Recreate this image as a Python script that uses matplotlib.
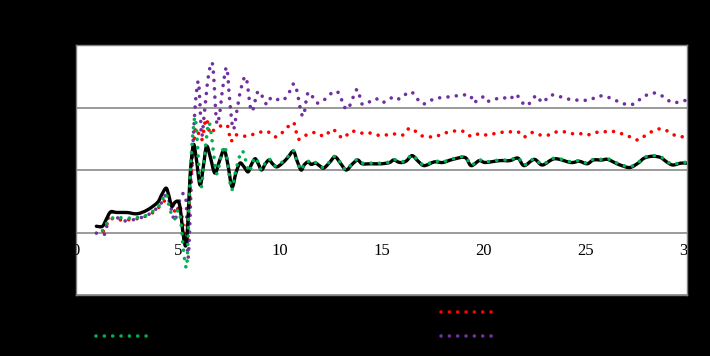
import matplotlib
matplotlib.use("Agg")
import matplotlib.pyplot as plt
from matplotlib.lines import Line2D
from matplotlib.path import Path
from matplotlib.patches import PathPatch

# black solid series
x_black = [1.0, 1.3, 1.5, 1.7, 2.0, 2.5, 3.0, 3.5, 4.0, 4.2, 4.42, 4.55, 4.7, 4.85, 5.0, 5.1, 5.2, 5.3,
           5.4, 5.5, 5.6, 5.76, 5.9, 6.09, 6.25, 6.41, 6.6, 6.82, 7.05, 7.27, 7.45, 7.66, 7.85, 8.05, 8.25,
           8.45, 8.6, 8.79, 8.95, 9.11, 9.3, 9.48, 9.65, 9.85, 10.1, 10.4, 10.67, 10.85, 11.05, 11.2, 11.39,
           11.55, 11.76, 11.95, 12.16, 12.45, 12.72, 13.0, 13.27, 13.55, 13.83, 14.05, 14.5, 15.0, 15.4,
           15.6, 15.9, 16.2, 16.5, 16.8, 17.1, 17.6, 18.0, 18.5, 19.1, 19.4, 19.8, 20.1, 20.8, 21.3, 21.7,
           22.0, 22.5, 22.9, 23.5, 24.3, 24.7, 25.1, 25.4, 25.8, 26.1, 26.5, 26.8, 27.2, 27.6, 27.9, 28.3,
           28.7, 29.0, 29.3, 29.7, 30.0]
y_black = [0.10, 0.10, 0.22, 0.33, 0.32, 0.32, 0.30, 0.36, 0.48, 0.60, 0.71, 0.60, 0.42, 0.48, 0.50, 0.42,
           0.15, -0.12, -0.20, 0.20, 0.90, 1.40, 1.20, 0.76, 1.05, 1.38, 1.20, 0.95, 1.15, 1.32, 1.10, 0.73,
           0.95, 1.11, 1.05, 0.97, 1.08, 1.18, 1.10, 1.00, 1.10, 1.16, 1.10, 1.05, 1.10, 1.20, 1.30, 1.15,
           1.00, 1.08, 1.13, 1.09, 1.11, 1.07, 1.03, 1.12, 1.21, 1.10, 1.00, 1.09, 1.16, 1.10, 1.10, 1.10,
           1.12, 1.16, 1.12, 1.14, 1.23, 1.14, 1.07, 1.13, 1.12, 1.17, 1.20, 1.07, 1.15, 1.12, 1.15, 1.15,
           1.19, 1.07, 1.17, 1.08, 1.18, 1.12, 1.14, 1.10, 1.16, 1.16, 1.17, 1.11, 1.07, 1.04, 1.11, 1.19,
           1.22, 1.20, 1.13, 1.08, 1.11, 1.11]

# green dotted series
x_green = [1.3, 1.5, 1.7, 2.0, 2.5, 3.0, 3.5, 4.0, 4.2, 4.42, 4.55, 4.7, 4.85, 5.0, 5.1, 5.2, 5.3, 5.43,
           5.5, 5.6, 5.76, 5.88, 6.12, 6.3, 6.5, 6.62, 6.9, 7.1, 7.3, 7.45, 7.64, 7.85, 8.13, 8.3, 8.5, 8.65,
           8.79, 8.95, 9.11, 9.3, 9.48, 9.65, 9.85, 10.1, 10.4, 10.67, 10.85, 11.05, 11.2, 11.39, 11.55,
           11.76, 11.95, 12.16, 12.45, 12.72, 13.0, 13.27, 13.55, 13.83, 14.05, 14.5, 15.0, 15.4, 15.6,
           15.9, 16.2, 16.5, 16.8, 17.1, 17.6, 18.0, 18.5, 19.1, 19.4, 19.8, 20.1, 20.8, 21.3, 21.7, 22.0,
           22.5, 22.9, 23.5, 24.3, 24.7, 25.1, 25.4, 25.8, 26.1, 26.5, 26.8, 27.2, 27.6, 27.9, 28.3, 28.7,
           29.0, 29.3, 29.7, 30.0]
y_green = [0.03, 0.14, 0.22, 0.24, 0.23, 0.24, 0.28, 0.40, 0.50, 0.62, 0.45, 0.28, 0.22, 0.35, 0.30, 0.00,
           -0.35, -0.56, -0.10, 0.90, 1.65, 1.78, 0.73, 1.20, 1.73, 1.62, 0.95, 1.20, 1.38, 1.10, 0.68, 1.00,
           1.30, 1.19, 0.97, 1.10, 1.20, 1.12, 1.00, 1.12, 1.18, 1.10, 1.06, 1.12, 1.21, 1.31, 1.15, 1.00,
           1.09, 1.14, 1.10, 1.12, 1.08, 1.04, 1.13, 1.22, 1.11, 1.00, 1.10, 1.17, 1.11, 1.11, 1.11, 1.13,
           1.17, 1.13, 1.15, 1.24, 1.15, 1.08, 1.14, 1.13, 1.18, 1.21, 1.08, 1.16, 1.13, 1.16, 1.16, 1.20,
           1.08, 1.18, 1.09, 1.19, 1.13, 1.15, 1.11, 1.17, 1.17, 1.18, 1.12, 1.08, 1.05, 1.12, 1.20, 1.23,
           1.21, 1.14, 1.09, 1.12, 1.12]

# red dotted series
x_red = [1.34, 1.5, 1.67, 2.24, 2.98, 3.63, 4.12, 4.42, 4.53, 4.7, 4.94, 5.1, 5.3, 5.43, 5.5, 5.63, 5.76,
         5.89, 6.17, 6.38, 6.58, 6.8, 7.07, 7.43, 7.6, 7.8, 8.35, 8.8, 9.36, 9.85, 10.4, 10.7, 10.9, 11.16,
         11.73, 12.2, 12.6, 13.1, 13.5, 14.0, 14.3, 15.0, 15.5, 16.05, 16.4, 16.9, 17.1, 17.6, 18.0, 18.5,
         19.0, 19.4, 19.8, 20.2, 20.8, 21.3, 21.7, 22.0, 22.4, 22.8, 23.2, 23.6, 24.0, 24.4, 24.8, 25.1,
         25.5, 25.9, 26.3, 26.8, 27.2, 27.6, 27.9, 28.3, 28.7, 29.0, 29.3, 29.7, 30.0]
y_red = [0.02, 0.12, 0.22, 0.20, 0.22, 0.29, 0.42, 0.54, 0.60, 0.44, 0.31, 0.44, 0.03, -0.18, 0.10, 0.84,
         1.27, 1.67, 1.48, 1.82, 1.59, 1.65, 1.70, 1.71, 1.46, 1.56, 1.54, 1.58, 1.62, 1.53, 1.69, 1.75,
         1.50, 1.54, 1.60, 1.54, 1.65, 1.51, 1.62, 1.59, 1.60, 1.55, 1.58, 1.56, 1.67, 1.56, 1.54, 1.53,
         1.58, 1.62, 1.62, 1.54, 1.58, 1.56, 1.60, 1.61, 1.61, 1.53, 1.60, 1.56, 1.56, 1.61, 1.61, 1.58,
         1.58, 1.56, 1.60, 1.61, 1.62, 1.58, 1.53, 1.48, 1.54, 1.62, 1.66, 1.63, 1.57, 1.53, 1.56]

# purple dotted series
x_purple = [1.0, 1.39, 1.5, 1.7, 2.24, 3.0, 3.63, 4.12, 4.45, 4.7, 4.86, 5.14, 5.4, 5.51, 5.68, 5.84, 6.0,
            6.08, 6.17, 6.3, 6.5, 6.71, 6.9, 7.05, 7.2, 7.4, 7.55, 7.72, 7.9, 8.1, 8.35, 8.62, 8.95, 9.36,
            9.6, 10.1, 10.4, 10.75, 11.13, 11.4, 11.8, 12.1, 12.8, 13.3, 13.8, 14.07, 14.7, 15.05, 15.6,
            15.9, 16.45, 17.0, 17.6, 18.3, 19.3, 19.5, 20.0, 20.2, 20.9, 21.3, 21.6, 22.1, 22.6, 22.9, 23.35,
            24.1, 24.5, 25.2, 25.6, 26.0, 26.3, 27.0, 27.4, 27.85, 28.3, 28.7, 29.3, 30.0]
y_purple = [-0.01, -0.03, 0.08, 0.33, 0.19, 0.22, 0.30, 0.44, 0.60, 0.35, 0.19, 0.57, 0.52, -0.40, 0.95,
            1.97, 2.42, 2.10, 1.54, 1.90, 2.50, 2.68, 1.78, 1.90, 2.30, 2.64, 2.10, 1.65, 1.95, 2.30, 2.48,
            1.94, 2.26, 2.05, 2.16, 2.11, 2.20, 2.37, 1.86, 2.24, 2.08, 2.10, 2.26, 1.97, 2.29, 2.05, 2.14,
            2.08, 2.17, 2.14, 2.25, 2.06, 2.14, 2.17, 2.20, 2.08, 2.17, 2.10, 2.16, 2.13, 2.21, 2.03, 2.19,
            2.08, 2.20, 2.14, 2.12, 2.12, 2.18, 2.18, 2.14, 2.05, 2.06, 2.17, 2.23, 2.20, 2.08, 2.12]

series_labels = ["Series 1", "Series 2", "Series 3", "Series 4"]
x_ticks = [0, 5, 10, 15, 20, 25, 30]
y_ticks = [-1, 0, 1, 2, 3]

GREEN = '#00B050'
RED = '#FF0000'
PURPLE = '#7030A0'
dots = dict(linestyle=(0, (0.01, 2.3)), capstyle='round', linewidth=2.6)


def smooth_line(ax, xs, ys, **kw):
    # Excel style smoothed line: Catmull-Rom segments drawn as cubic Beziers
    pts = list(zip(xs, ys))
    verts = [pts[0]]
    codes = [Path.MOVETO]
    n = len(pts)
    for i in range(n - 1):
        p0 = pts[i - 1] if i > 0 else pts[i]
        p1 = pts[i]
        p2 = pts[i + 1]
        p3 = pts[i + 2] if i + 2 < n else pts[i + 1]
        c1 = (p1[0] + (p2[0] - p0[0]) / 6, p1[1] + (p2[1] - p0[1]) / 6)
        c2 = (p2[0] - (p3[0] - p1[0]) / 6, p2[1] - (p3[1] - p1[1]) / 6)
        verts += [c1, c2, p2]
        codes += [Path.CURVE4] * 3
    patch = PathPatch(Path(verts, codes), fill=False, **kw)
    ax.add_patch(patch)
    return patch


fig = plt.figure(figsize=(7.1, 3.56), dpi=100, facecolor='black')
ax = fig.add_axes([76 / 710, 61 / 356, 611 / 710, 250 / 356])
ax.set_facecolor('white')

smooth_line(ax, x_purple, y_purple, edgecolor=PURPLE, zorder=3, **dots)
smooth_line(ax, x_red, y_red, edgecolor=RED, zorder=3, **dots)
smooth_line(ax, x_black, y_black, edgecolor='black', linewidth=2.4, zorder=4, capstyle='round',
            joinstyle='round')
smooth_line(ax, x_green, y_green, edgecolor=GREEN, zorder=5, **dots)

ax.set_xlim(0, 30)
ax.set_ylim(-1, 3)
ax.set_yticks(y_ticks)
ax.set_xticks(x_ticks)
ax.set_xticklabels([])
ax.tick_params(length=0, colors='black', labelsize=10)
ax.grid(axis='y', color='#808080', linewidth=1.1)
ax.set_axisbelow(True)
for sp in ax.spines.values():
    sp.set_color('#808080')
    sp.set_linewidth(1)

# x labels sit just under the zero line and get clipped by the plot area
for t in x_ticks:
    ax.text(t, -0.30, str(t), ha='center', va='center', fontsize=12,
            family='Liberation Serif', color='black', clip_on=True)

leg_dots = dict(linestyle=(0, (0.01, 2.3)), dash_capstyle='round', linewidth=2.6)
h_black = Line2D([], [], color='black', linewidth=2.4)
h_green = Line2D([], [], color=GREEN, **leg_dots)
h_red = Line2D([], [], color=RED, **leg_dots)
h_purple = Line2D([], [], color=PURPLE, **leg_dots)

leg1 = fig.legend([h_black, h_green], [series_labels[0], series_labels[1]], loc='upper left',
                  bbox_to_anchor=(83 / 710, 1 - 293 / 356), frameon=False, handlelength=3.8,
                  labelspacing=0.75, fontsize=10, labelcolor='black')
leg2 = fig.legend([h_red, h_purple], [series_labels[2], series_labels[3]], loc='upper left',
                  bbox_to_anchor=(428 / 710, 1 - 293 / 356), frameon=False, handlelength=3.8,
                  labelspacing=0.75, fontsize=10, labelcolor='black')

fig.savefig('out.png', dpi=100, facecolor='black')
